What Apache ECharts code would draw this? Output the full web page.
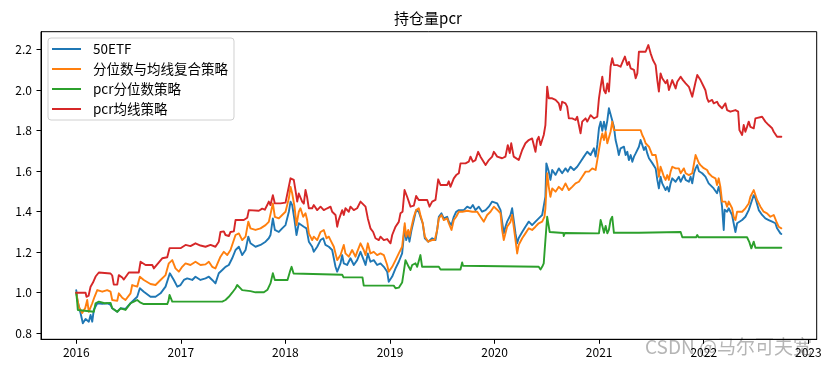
<!DOCTYPE html>
<html>
<head>
<meta charset="utf-8">
<script src="https://cdn.jsdelivr.net/npm/echarts@6/dist/echarts.min.js"></script>
<style>
html,body{margin:0;padding:0;background:#fff;}
#chart{width:831px;height:371px;}
</style>
</head>
<body>
<div id="chart"></div>
<script>
const seriesNames = ['50ETF', '分位数与均线复合策略', 'pcr分位数策略', 'pcr均线策略'];
const yearTicks = [2016, 2017, 2018, 2019, 2020, 2021, 2022, 2023];

// [decimal year, net value]
const etf50 = [
[2016.000,1.013],[2016.010,0.964],[2016.041,0.900],[2016.063,0.849],[2016.089,0.870],[2016.120,0.857],[2016.137,0.890],[2016.153,0.857],[2016.168,0.915],[2016.201,0.948],[2016.249,0.945],[2016.296,0.948],[2016.328,0.940],[2016.344,0.923],[2016.392,0.906],[2016.424,0.923],[2016.471,0.920],[2016.519,0.948],[2016.551,0.964],[2016.583,0.980],[2016.608,1.022],[2016.646,1.005],[2016.710,0.980],[2016.758,0.980],[2016.806,0.997],[2016.854,1.030],[2016.895,1.096],[2016.933,1.063],[2016.966,1.030],[2016.997,1.038],
[2017.029,1.063],[2017.061,1.071],[2017.109,1.063],[2017.140,1.079],[2017.188,1.063],[2017.236,1.071],[2017.268,1.079],[2017.300,1.063],[2017.331,1.046],[2017.363,1.096],[2017.396,1.112],[2017.427,1.128],[2017.459,1.137],[2017.491,1.170],[2017.523,1.211],[2017.555,1.227],[2017.587,1.186],[2017.619,1.211],[2017.645,1.277],[2017.666,1.244],[2017.714,1.227],[2017.762,1.236],[2017.810,1.252],[2017.841,1.269],[2017.857,1.285],[2017.880,1.367],[2017.899,1.310],[2017.937,1.300],[2017.969,1.318],
[2018.001,1.334],[2018.033,1.400],[2018.049,1.450],[2018.065,1.433],[2018.087,1.359],[2018.106,1.285],[2018.128,1.343],[2018.144,1.351],[2018.176,1.326],[2018.201,1.318],[2018.224,1.252],[2018.256,1.227],[2018.271,1.202],[2018.304,1.227],[2018.336,1.260],[2018.362,1.269],[2018.383,1.236],[2018.415,1.227],[2018.447,1.211],[2018.479,1.128],[2018.495,1.104],[2018.527,1.145],[2018.543,1.186],[2018.558,1.145],[2018.590,1.137],[2018.622,1.170],[2018.654,1.137],[2018.686,1.161],[2018.718,1.202],[2018.749,1.161],[2018.766,1.137],[2018.788,1.194],[2018.813,1.153],[2018.845,1.161],[2018.877,1.137],[2018.909,1.145],[2018.941,1.128],[2018.973,1.104],[2018.988,1.054],
[2019.021,1.080],[2019.053,1.120],[2019.084,1.153],[2019.116,1.194],[2019.141,1.326],[2019.155,1.260],[2019.174,1.293],[2019.186,1.252],[2019.206,1.310],[2019.228,1.359],[2019.250,1.408],[2019.275,1.400],[2019.291,1.375],[2019.313,1.343],[2019.333,1.269],[2019.365,1.252],[2019.403,1.269],[2019.435,1.260],[2019.451,1.310],[2019.467,1.375],[2019.492,1.392],[2019.514,1.367],[2019.547,1.375],[2019.562,1.351],[2019.588,1.334],[2019.610,1.375],[2019.633,1.400],[2019.658,1.408],[2019.706,1.408],[2019.738,1.425],[2019.770,1.417],[2019.792,1.433],[2019.817,1.408],[2019.849,1.425],[2019.881,1.400],[2019.914,1.408],[2019.945,1.425],[2019.977,1.450],[2019.993,1.458],
[2020.025,1.441],[2020.057,1.408],[2020.072,1.351],[2020.088,1.293],[2020.104,1.326],[2020.120,1.351],[2020.152,1.384],[2020.168,1.417],[2020.183,1.359],[2020.200,1.293],[2020.216,1.244],[2020.231,1.270],[2020.264,1.300],[2020.295,1.326],[2020.327,1.351],[2020.359,1.334],[2020.391,1.351],[2020.422,1.367],[2020.455,1.384],[2020.470,1.392],[2020.486,1.474],[2020.495,1.639],[2020.518,1.598],[2020.534,1.557],[2020.551,1.606],[2020.583,1.582],[2020.614,1.614],[2020.646,1.590],[2020.678,1.614],[2020.700,1.598],[2020.726,1.622],[2020.758,1.606],[2020.790,1.622],[2020.822,1.647],[2020.854,1.672],[2020.886,1.696],[2020.918,1.680],[2020.950,1.713],[2020.966,1.672],[2020.982,1.730],[2020.998,1.812],
[2021.014,1.845],[2021.030,1.800],[2021.046,1.845],[2021.062,1.803],[2021.078,1.850],[2021.093,1.911],[2021.109,1.919],[2021.125,1.850],[2021.141,1.820],[2021.157,1.754],[2021.173,1.720],[2021.188,1.680],[2021.205,1.713],[2021.221,1.705],[2021.237,1.721],[2021.253,1.680],[2021.269,1.696],[2021.284,1.655],[2021.301,1.680],[2021.317,1.647],[2021.333,1.672],[2021.349,1.688],[2021.365,1.680],[2021.380,1.721],[2021.396,1.754],[2021.412,1.730],[2021.428,1.705],[2021.444,1.721],[2021.460,1.688],[2021.476,1.664],[2021.492,1.672],[2021.508,1.640],[2021.523,1.631],[2021.540,1.614],[2021.556,1.557],[2021.571,1.515],[2021.587,1.573],[2021.603,1.540],[2021.619,1.532],[2021.635,1.507],[2021.651,1.523],[2021.667,1.500],[2021.683,1.540],[2021.699,1.565],[2021.731,1.548],[2021.762,1.573],[2021.779,1.548],[2021.810,1.581],[2021.827,1.557],[2021.858,1.548],[2021.874,1.573],[2021.890,1.540],[2021.906,1.590],[2021.922,1.614],[2021.938,1.630],[2021.954,1.600],[2021.985,1.590],
[2022.016,1.573],[2022.047,1.540],[2022.063,1.532],[2022.095,1.515],[2022.127,1.491],[2022.143,1.523],[2022.159,1.491],[2022.175,1.425],[2022.191,1.310],[2022.200,1.410],[2022.223,1.400],[2022.239,1.417],[2022.255,1.400],[2022.271,1.384],[2022.286,1.343],[2022.303,1.300],[2022.319,1.343],[2022.335,1.334],[2022.367,1.359],[2022.398,1.375],[2022.430,1.408],[2022.462,1.458],[2022.478,1.482],[2022.494,1.466],[2022.526,1.408],[2022.558,1.384],[2022.589,1.367],[2022.621,1.359],[2022.654,1.351],[2022.685,1.343],[2022.701,1.318],[2022.733,1.293],[2022.742,1.290]
];

const combo = [
[2016.000,1.000],[2016.025,0.930],[2016.057,0.900],[2016.086,0.925],[2016.105,0.964],[2016.120,0.906],[2016.153,0.948],[2016.175,0.980],[2016.201,1.013],[2016.249,1.005],[2016.296,1.013],[2016.328,1.005],[2016.344,0.964],[2016.392,0.960],[2016.407,0.997],[2016.440,0.975],[2016.471,0.964],[2016.519,0.997],[2016.535,1.038],[2016.583,1.030],[2016.608,1.079],[2016.646,1.063],[2016.710,1.043],[2016.758,1.038],[2016.806,1.063],[2016.854,1.087],[2016.885,1.145],[2016.918,1.161],[2016.949,1.120],[2016.981,1.104],
[2017.013,1.128],[2017.045,1.145],[2017.092,1.137],[2017.140,1.153],[2017.188,1.137],[2017.236,1.140],[2017.268,1.153],[2017.300,1.128],[2017.331,1.120],[2017.379,1.178],[2017.411,1.202],[2017.444,1.186],[2017.475,1.211],[2017.523,1.285],[2017.555,1.293],[2017.587,1.260],[2017.619,1.277],[2017.645,1.351],[2017.666,1.318],[2017.714,1.310],[2017.762,1.318],[2017.810,1.334],[2017.841,1.350],[2017.857,1.359],[2017.880,1.441],[2017.899,1.375],[2017.937,1.367],[2017.969,1.384],
[2018.001,1.400],[2018.033,1.466],[2018.049,1.523],[2018.065,1.490],[2018.087,1.425],[2018.106,1.334],[2018.128,1.400],[2018.144,1.417],[2018.170,1.375],[2018.192,1.392],[2018.208,1.359],[2018.224,1.293],[2018.256,1.260],[2018.271,1.277],[2018.304,1.260],[2018.336,1.300],[2018.367,1.310],[2018.393,1.269],[2018.415,1.277],[2018.431,1.260],[2018.463,1.227],[2018.495,1.161],[2018.510,1.170],[2018.527,1.186],[2018.558,1.236],[2018.574,1.194],[2018.606,1.178],[2018.638,1.211],[2018.670,1.178],[2018.686,1.202],[2018.718,1.244],[2018.749,1.211],[2018.766,1.186],[2018.788,1.244],[2018.813,1.194],[2018.845,1.202],[2018.877,1.186],[2018.909,1.194],[2018.941,1.186],[2018.973,1.137],[2018.988,1.104],
[2019.021,1.128],[2019.053,1.161],[2019.084,1.194],[2019.116,1.227],[2019.141,1.343],[2019.155,1.277],[2019.174,1.310],[2019.186,1.277],[2019.206,1.326],[2019.228,1.375],[2019.250,1.408],[2019.275,1.417],[2019.291,1.384],[2019.313,1.343],[2019.333,1.277],[2019.365,1.252],[2019.403,1.260],[2019.428,1.260],[2019.451,1.310],[2019.467,1.367],[2019.492,1.384],[2019.514,1.359],[2019.547,1.367],[2019.562,1.343],[2019.588,1.310],[2019.610,1.359],[2019.633,1.375],[2019.658,1.400],[2019.693,1.400],[2019.738,1.405],[2019.786,1.400],[2019.834,1.400],[2019.865,1.375],[2019.897,1.351],[2019.929,1.384],[2019.961,1.400],[2019.993,1.425],
[2020.025,1.410],[2020.057,1.392],[2020.072,1.310],[2020.088,1.260],[2020.104,1.293],[2020.120,1.326],[2020.152,1.350],[2020.168,1.384],[2020.183,1.326],[2020.200,1.260],[2020.216,1.194],[2020.231,1.236],[2020.264,1.269],[2020.295,1.293],[2020.327,1.318],[2020.359,1.310],[2020.391,1.326],[2020.422,1.343],[2020.455,1.351],[2020.477,1.375],[2020.486,1.417],[2020.503,1.590],[2020.518,1.523],[2020.534,1.474],[2020.551,1.515],[2020.583,1.499],[2020.614,1.523],[2020.646,1.507],[2020.678,1.540],[2020.710,1.507],[2020.742,1.523],[2020.774,1.540],[2020.806,1.548],[2020.838,1.573],[2020.870,1.598],[2020.902,1.598],[2020.934,1.614],[2020.966,1.606],[2020.982,1.655],[2020.998,1.705],
[2021.014,1.754],[2021.030,1.787],[2021.046,1.754],[2021.062,1.795],[2021.078,1.738],[2021.093,1.730],[2021.109,1.795],[2021.125,1.845],[2021.141,1.803],[2021.396,1.803],[2021.412,1.779],[2021.428,1.762],[2021.444,1.738],[2021.460,1.746],[2021.476,1.721],[2021.492,1.713],[2021.508,1.680],[2021.523,1.688],[2021.540,1.680],[2021.556,1.639],[2021.571,1.573],[2021.587,1.622],[2021.603,1.598],[2021.619,1.573],[2021.635,1.557],[2021.651,1.581],[2021.667,1.557],[2021.683,1.598],[2021.699,1.622],[2021.731,1.614],[2021.762,1.614],[2021.779,1.590],[2021.810,1.614],[2021.827,1.590],[2021.858,1.581],[2021.890,1.590],[2021.922,1.680],[2021.938,1.680],[2021.954,1.640],[2021.969,1.630],[2021.985,1.639],
[2022.000,1.615],[2022.032,1.606],[2022.047,1.590],[2022.080,1.573],[2022.112,1.565],[2022.127,1.532],[2022.143,1.565],[2022.159,1.523],[2022.175,1.450],[2022.191,1.441],[2022.207,1.450],[2022.223,1.425],[2022.239,1.450],[2022.255,1.441],[2022.271,1.417],[2022.286,1.375],[2022.303,1.359],[2022.319,1.400],[2022.335,1.392],[2022.367,1.400],[2022.398,1.417],[2022.430,1.441],[2022.446,1.474],[2022.478,1.507],[2022.494,1.499],[2022.510,1.458],[2022.542,1.425],[2022.573,1.400],[2022.605,1.392],[2022.637,1.375],[2022.669,1.384],[2022.685,1.375],[2022.701,1.343],[2022.716,1.326],[2022.742,1.318]
];

const pcrQuantile = [
[2016.000,1.000],[2016.008,0.960],[2016.015,0.915],[2016.022,0.906],[2016.168,0.906],[2016.185,0.948],[2016.216,0.956],[2016.271,0.948],[2016.328,0.950],[2016.344,0.923],[2016.392,0.906],[2016.424,0.923],[2016.471,0.915],[2016.519,0.948],[2016.551,0.956],[2016.583,0.964],[2016.615,0.951],[2016.646,0.944],[2016.870,0.944],[2016.882,0.960],[2016.892,0.989],[2016.918,0.956],
[2017.396,0.956],[2017.411,0.950],[2017.427,0.964],[2017.459,0.980],[2017.491,1.000],[2017.523,1.022],[2017.539,1.038],[2017.555,1.030],[2017.587,1.013],[2017.666,1.008],[2017.714,1.002],[2017.794,1.002],[2017.829,1.015],[2017.857,1.046],[2017.880,1.096],[2017.899,1.063],
[2018.020,1.063],[2018.043,1.104],[2018.059,1.128],[2018.078,1.095],[2018.096,1.089],[2018.543,1.089],[2018.556,1.076],[2018.737,1.076],[2018.749,1.035],
[2019.036,1.035],[2019.053,1.022],[2019.069,1.013],[2019.084,1.025],[2019.116,1.050],[2019.131,1.100],[2019.148,1.161],[2019.164,1.170],[2019.179,1.128],[2019.196,1.112],[2019.212,1.137],[2019.228,1.128],[2019.244,1.145],[2019.260,1.128],[2019.291,1.186],[2019.307,1.128],[2019.467,1.128],[2019.483,1.115],[2019.674,1.115],[2019.690,1.150],[2019.698,1.133],
[2020.422,1.128],[2020.439,1.115],[2020.455,1.128],[2020.470,1.145],[2020.486,1.260],[2020.503,1.375],[2020.518,1.370],[2020.527,1.300],[2020.658,1.295],[2020.661,1.280],[2020.672,1.295],[2020.998,1.293],
[2021.014,1.359],[2021.030,1.330],[2021.046,1.296],[2021.062,1.330],[2021.078,1.293],[2021.093,1.310],[2021.109,1.359],[2021.125,1.375],[2021.141,1.296],[2021.380,1.296],[2021.396,1.300],[2021.779,1.300],[2021.795,1.274],[2021.927,1.274],[2021.938,1.285],[2021.950,1.274],
[2022.414,1.274],[2022.436,1.250],[2022.455,1.219],[2022.478,1.252],[2022.494,1.222],[2022.742,1.222]
];

const pcrMA = [
[2016.000,1.000],[2016.089,1.000],[2016.098,0.980],[2016.118,0.985],[2016.137,1.030],[2016.160,1.050],[2016.185,1.080],[2016.216,1.100],[2016.328,1.095],[2016.344,1.085],[2016.359,1.040],[2016.392,1.040],[2016.407,1.087],[2016.440,1.075],[2016.455,1.065],[2016.503,1.100],[2016.598,1.100],[2016.615,1.153],[2016.663,1.137],[2016.727,1.137],[2016.742,1.120],[2016.790,1.150],[2016.822,1.170],[2016.870,1.175],[2016.892,1.220],[2016.997,1.220],
[2017.045,1.236],[2017.092,1.230],[2017.140,1.244],[2017.188,1.233],[2017.236,1.227],[2017.284,1.236],[2017.331,1.227],[2017.363,1.252],[2017.379,1.300],[2017.411,1.303],[2017.427,1.285],[2017.459,1.280],[2017.475,1.300],[2017.507,1.303],[2017.523,1.359],[2017.602,1.359],[2017.635,1.370],[2017.650,1.408],[2017.746,1.405],[2017.778,1.415],[2017.803,1.410],[2017.826,1.433],[2017.841,1.450],[2017.857,1.433],[2017.880,1.482],[2017.899,1.441],[2017.953,1.441],
[2018.001,1.445],[2018.020,1.450],[2018.049,1.565],[2018.080,1.557],[2018.096,1.507],[2018.113,1.450],[2018.128,1.490],[2018.144,1.499],[2018.160,1.450],[2018.176,1.440],[2018.192,1.507],[2018.208,1.470],[2018.224,1.417],[2018.256,1.417],[2018.271,1.433],[2018.304,1.408],[2018.336,1.425],[2018.367,1.408],[2018.400,1.417],[2018.431,1.425],[2018.447,1.400],[2018.479,1.384],[2018.495,1.326],[2018.510,1.360],[2018.527,1.367],[2018.543,1.408],[2018.558,1.384],[2018.574,1.417],[2018.606,1.400],[2018.622,1.425],[2018.654,1.408],[2018.686,1.417],[2018.718,1.450],[2018.734,1.458],[2018.766,1.425],[2018.788,1.367],[2018.813,1.318],[2018.839,1.300],[2018.861,1.269],[2018.893,1.260],[2018.909,1.277],[2018.941,1.260],[2018.973,1.265],
[2019.005,1.244],[2019.021,1.285],[2019.053,1.326],[2019.084,1.350],[2019.100,1.392],[2019.120,1.400],[2019.139,1.507],[2019.164,1.474],[2019.196,1.425],[2019.228,1.430],[2019.250,1.478],[2019.275,1.458],[2019.356,1.458],[2019.378,1.425],[2019.403,1.450],[2019.435,1.458],[2019.461,1.560],[2019.483,1.532],[2019.547,1.532],[2019.562,1.550],[2019.578,1.523],[2019.597,1.515],[2019.610,1.565],[2019.633,1.581],[2019.658,1.590],[2019.674,1.639],[2019.722,1.639],[2019.753,1.647],[2019.770,1.672],[2019.792,1.647],[2019.817,1.655],[2019.843,1.696],[2019.865,1.672],[2019.881,1.680],[2019.914,1.631],[2019.945,1.655],[2019.977,1.672],[2019.993,1.696],
[2020.025,1.672],[2020.072,1.664],[2020.104,1.672],[2020.126,1.729],[2020.145,1.690],[2020.159,1.738],[2020.183,1.672],[2020.231,1.655],[2020.264,1.705],[2020.295,1.738],[2020.327,1.754],[2020.359,1.762],[2020.375,1.729],[2020.391,1.696],[2020.407,1.754],[2020.422,1.770],[2020.439,1.729],[2020.455,1.754],[2020.470,1.779],[2020.486,1.828],[2020.503,2.017],[2020.518,1.960],[2020.551,1.960],[2020.583,1.952],[2020.599,1.943],[2020.614,1.935],[2020.630,1.902],[2020.646,1.943],[2020.678,1.935],[2020.694,1.919],[2020.710,1.861],[2020.742,1.861],[2020.774,1.853],[2020.790,1.869],[2020.806,1.828],[2020.822,1.787],[2020.838,1.845],[2020.870,1.861],[2020.886,1.845],[2020.918,1.877],[2020.950,1.861],[2020.966,1.853],[2020.982,1.869],[2020.998,1.960],
[2021.014,2.017],[2021.030,2.067],[2021.046,2.000],[2021.062,1.985],[2021.078,2.034],[2021.093,1.993],[2021.109,2.116],[2021.125,2.158],[2021.141,2.124],[2021.173,2.124],[2021.205,2.116],[2021.224,2.140],[2021.246,2.166],[2021.269,2.124],[2021.284,2.140],[2021.301,2.108],[2021.317,2.116],[2021.333,2.100],[2021.349,2.059],[2021.365,2.083],[2021.380,2.190],[2021.444,2.190],[2021.470,2.223],[2021.492,2.182],[2021.514,2.149],[2021.540,2.124],[2021.556,2.050],[2021.571,1.993],[2021.587,2.083],[2021.603,2.059],[2021.635,2.034],[2021.651,2.050],[2021.667,2.001],[2021.699,2.050],[2021.731,2.009],[2021.747,2.042],[2021.779,2.067],[2021.801,2.050],[2021.827,2.034],[2021.858,2.017],[2021.890,1.968],[2021.906,1.976],[2021.922,2.042],[2021.938,2.075],[2021.969,2.050],[2021.985,2.050],
[2022.000,2.017],[2022.016,2.000],[2022.032,1.960],[2022.047,1.943],[2022.080,1.952],[2022.095,1.935],[2022.127,1.943],[2022.143,1.927],[2022.159,1.935],[2022.175,1.911],[2022.207,1.935],[2022.223,1.902],[2022.239,1.911],[2022.255,1.894],[2022.271,1.886],[2022.303,1.902],[2022.329,1.894],[2022.341,1.803],[2022.367,1.779],[2022.382,1.828],[2022.398,1.795],[2022.414,1.819],[2022.430,1.845],[2022.446,1.819],[2022.478,1.812],[2022.494,1.861],[2022.558,1.869],[2022.589,1.845],[2022.621,1.828],[2022.654,1.812],[2022.669,1.795],[2022.685,1.787],[2022.701,1.770],[2022.742,1.770]
];

const seriesData = [etf50, combo, pcrQuantile, pcrMA];
const colors = ['#1f77b4', '#ff7f0e', '#2ca02c', '#d62728'];

const chart = echarts.init(document.getElementById('chart'), null, {renderer: 'canvas'});
const fontCN = '"Noto Sans CJK SC", "DejaVu Sans", sans-serif';

const option = {
  animation: false,
  backgroundColor: '#ffffff',
  title: {
    text: '持仓量pcr',
    left: 428,
    top: 11,
    padding: 0,
    textAlign: 'center',
    textStyle: {fontFamily: fontCN, fontSize: 15, fontWeight: 'normal', color: '#000'}
  },
  legend: {
    orient: 'vertical',
    left: 48,
    top: 38,
    padding: [4, 6, 4, 4],
    itemGap: 6,
    itemWidth: 29,
    itemHeight: 2,
    icon: 'rect',
    backgroundColor: 'rgba(255,255,255,0.8)',
    borderColor: '#d0d0d0',
    borderWidth: 1,
    borderRadius: 3,
    textStyle: {fontFamily: fontCN, fontSize: 13.5, color: '#000', lineHeight: 14, padding: [0, 0, 0, 7]},
    data: seriesNames
  },
  grid: {
    left: 41, right: 14.3, top: 31.7, bottom: 31.7,
    show: true, borderColor: '#000', borderWidth: 1, backgroundColor: 'transparent'
  },
  xAxis: {
    type: 'value',
    min: 2015.663,
    max: 2023.08,
    splitNumber: 7,
    axisLine: {show: true, lineStyle: {color: '#000', width: 1}},
    axisTick: {show: true, length: 4.5, lineStyle: {color: '#000'}},
    splitLine: {show: false},
    axisLabel: {
      showMinLabel: false, showMaxLabel: false,
      margin: 7, color: '#000', fontFamily: fontCN, fontSize: 12,
      formatter: function (v) {
        const r = Math.round(v);
        return (Math.abs(v - r) < 1e-6 && yearTicks.indexOf(r) >= 0) ? String(r) : '';
      }
    }
  },
  yAxis: {
    type: 'value',
    min: 0.770,
    max: 2.289,
    splitNumber: 7,
    axisLine: {show: true, lineStyle: {color: '#000', width: 1}},
    axisTick: {show: true, length: 4.5, lineStyle: {color: '#000'}},
    splitLine: {show: false},
    axisLabel: {
      showMinLabel: false, showMaxLabel: false,
      margin: 9, color: '#000', fontFamily: fontCN, fontSize: 12,
      formatter: function (v) { return v.toFixed(1); }
    }
  },
  graphic: [{
    type: 'text',
    left: 645,
    top: 337,
    z: -10,
    silent: true,
    style: {text: 'CSDN @马尔可夫宽', fill: 'rgba(150,150,150,0.7)', fontSize: 19, fontFamily: fontCN}
  }],
  series: seriesNames.map(function (name, i) {
    return {
      name: name,
      type: 'line',
      data: seriesData[i],
      symbol: 'none',
      showSymbol: false,
      color: colors[i],
      lineStyle: {color: colors[i], width: 1.9, join: 'round', cap: 'round'},
      emphasis: {disabled: true},
      z: 2 + i
    };
  })
};
chart.setOption(option);
</script>
</body>
</html>
